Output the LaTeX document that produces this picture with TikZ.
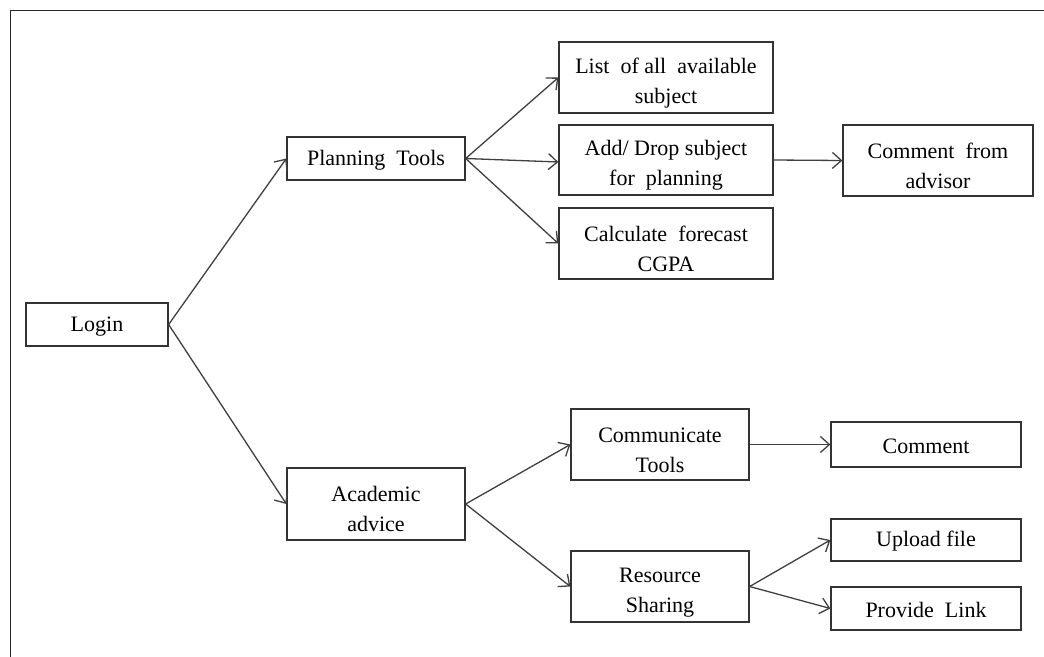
\documentclass[tikz,border=0pt]{standalone}
\usepackage{fontspec}
\setmainfont{Liberation Serif}
\usetikzlibrary{arrows.meta}
% struts that set the vertical position of one- and two-line labels
\newcommand\topstrut{\rule{0pt}{26pt}}
\newcommand\onestrut{\rule{0pt}{18.5pt}}
\begin{document}
\begin{tikzpicture}[x=1pt,y=-1pt,
  box/.style={draw=black!80, line width=1.3pt, rectangle, inner sep=0pt,
    align=center, font=\fontsize{22}{30}\selectfont, text=black},
  tallbox/.style={box, minimum height=71pt},
  link/.style={draw=black!75, line width=1.3pt,
    -{Straight Barb[length=9pt,width=16pt,line width=1.3pt]}}]
\useasboundingbox (0,0) rectangle (1044,656);
\fill[white] (0,0) rectangle (1044,656);
% page frame
\draw[black!85, line width=1.6pt] (10.5,10.5) rectangle (1060,680);

% boxes (centre, width, height)
\node[box, minimum width=142pt, minimum height=43pt] (login) at (97,324.5) {\onestrut Login};
\node[box, minimum width=178pt, minimum height=43pt] (plan) at (376,158.5) {\onestrut Planning\ \ Tools};
\node[tallbox, minimum width=178pt, minimum height=72pt] (acad) at (376,504) {\topstrut Academic\\advice};

\node[tallbox, minimum width=214pt] (list) at (666,77.5) {\topstrut List\ \ of all\ \ available\\subject};
\node[tallbox, minimum width=214pt, minimum height=70pt] (add) at (666,160) {\topstrut Add/\ Drop subject\\for\ \ planning};
\node[tallbox, minimum width=214pt] (calc) at (666,243.5) {\topstrut Calculate\ \ forecast\\CGPA};
\node[tallbox, minimum width=190pt] (advisor) at (938,160.5) {\topstrut Comment\ \ from\\advisor};

\node[tallbox, minimum width=178pt] (comm) at (660,444.5) {\topstrut Communicate\\Tools};
\node[tallbox, minimum width=178pt] (res) at (660,586.5) {\topstrut Resource\\Sharing};
\node[box, minimum width=190pt, minimum height=45pt] (cmt) at (926,444.5) {\onestrut Comment};
\node[box, minimum width=190pt, minimum height=42pt] (up) at (926,540) {\onestrut Upload file};
\node[box, minimum width=190pt, minimum height=43pt] (prov) at (926,608.5) {\onestrut Provide\ \ Link};

% connectors
\draw[link] (login.east) -- (plan.west);
\draw[link] (login.east) -- (acad.west);
\draw[link] (plan.east) -- (list.west);
\draw[link] (plan.east) -- ([yshift=-2pt]add.west);
\draw[link] (plan.east) -- (calc.west);
\draw[link] (add.east) -- (advisor.west);
\draw[link] (acad.east) -- (comm.west);
\draw[link] (acad.east) -- (res.west);
\draw[link] (comm.east) -- (cmt.west);
\draw[link] (res.east) -- (up.west);
\draw[link] (res.east) -- (prov.west);
\end{tikzpicture}
\end{document}
